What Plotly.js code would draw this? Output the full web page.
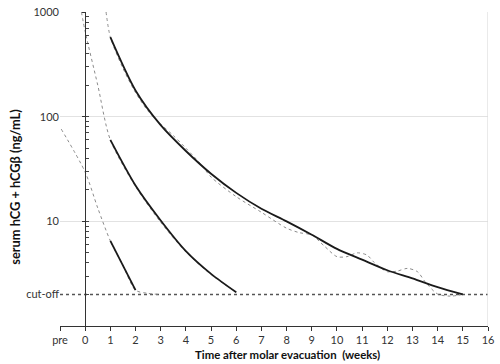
<!DOCTYPE html>
<html><head><meta charset="utf-8">
<script src="https://cdn.plot.ly/plotly-3.0.1.min.js"></script>
<style>html,body{margin:0;padding:0;background:#fff}</style>
</head><body><div id="chart" style="width:500px;height:364px"></div>
<script>
// ---- data ----
const weekTicks  = [-1,0,1,2,3,4,5,6,7,8,9,10,11,12,13,14,15,16];
const weekLabels = ['pre','0','1','2','3','4','5','6','7','8','9','10','11','12','13','14','15','16'];
const yTickVals  = [2, 10, 100, 1000];
const yTickText  = ['cut-off','10','100','1000'];
const minorVals  = [2,3,4,5,6,7,8,9,10,20,30,40,50,60,70,80,90,100,200,300,400,500,600,700,800,900,1000];
const majorVals  = [10,100,1000];
const cutoff     = 2;

// case A (fast regression)
const aObsX = [-0.95, 0, 0.5, 1, 1.5, 2, 2.5, 3];
const aObsY = [76, 29.5, 13.4, 6.5, 3.8, 2.2, 2.05, 2.0];
const aFitX = [1, 2];
const aFitY = [6.5, 2.2];

// case B
const bObsX = [-0.15, 0, 0.5, 1, 2, 3, 4, 5, 6];
const bObsY = [1000, 650, 200, 60, 21.5, 9.8, 5.1, 3.1, 2.1];
const bFitX = [1, 2, 3, 4, 5, 6];
const bFitY = [60, 22, 10.2, 5.2, 3.15, 2.1];

// case C (slow regression)
const cObsX = [0.83, 1, 1.5, 2, 2.5, 3, 3.5, 4, 4.6, 5, 6, 7, 8, 8.5, 9, 9.5, 10, 10.4, 10.8, 11.2, 11.5, 12, 12.4, 12.8, 13.2, 13.5, 14, 14.5, 15];
const cObsY = [1000, 575, 290, 170, 113, 85, 66, 50, 35, 26.5, 17.2, 12.2, 8.6, 7.8, 7.4, 5.8, 4.6, 4.6, 5.0, 4.75, 4.0, 3.3, 3.35, 3.55, 3.3, 2.65, 2.02, 1.93, 2.0];
const cFitX = [1, 2, 3, 4, 5, 6, 7, 8, 9, 10, 11, 12, 13, 14, 15];
const cFitY = [575, 178, 83, 47, 28.5, 18.7, 13.2, 10, 7.45, 5.45, 4.3, 3.41, 2.85, 2.35, 2.0];

// ---- styles ----
const FONT = 'Lato, "Open Sans", sans-serif';
const obsLine = {color:'#8c8c8c', width:1, dash:'dot', shape:'spline', smoothing:0.8};
const fitLine = {color:'#1a1a1a', width:1.8, shape:'spline', smoothing:0.8};

const traces = [
  {x:[-1,16], y:[cutoff,cutoff], mode:'lines', line:{color:'#555', width:1.5, dash:'dot'}, hoverinfo:'skip'},
  {x:aObsX, y:aObsY, mode:'lines', line:obsLine},
  {x:bObsX, y:bObsY, mode:'lines', line:obsLine},
  {x:cObsX, y:cObsY, mode:'lines', line:obsLine},
  {x:aFitX, y:aFitY, mode:'lines', line:{color:'#1a1a1a', width:1.8}},
  {x:bFitX, y:bFitY, mode:'lines', line:fitLine},
  {x:cFitX, y:cFitY, mode:'lines', line:fitLine},
  {x:[null], y:[null], yaxis:'y2', mode:'lines', hoverinfo:'skip'},
  {x:[null], y:[null], yaxis:'y3', mode:'lines', hoverinfo:'skip'}
];

const axPos = (0 - (-1)) / 17;
const layout = {
  width:500, height:364,
  margin:{l:60, r:12, t:12, b:38},
  paper_bgcolor:'#fff', plot_bgcolor:'#fff',
  showlegend:false,
  font:{family:FONT, size:10, color:'#333'},
  xaxis:{
    range:[-1,16], tickvals:weekTicks, ticktext:weekLabels,
    showgrid:false, zeroline:false,
    showline:true, linecolor:'#333', linewidth:1.2,
    ticks:'outside', ticklen:4, tickcolor:'#333', tickwidth:1,
    tickfont:{family:FONT, size:11, color:'#333'}
  },
  yaxis:{
    type:'log', range:[0,3], tickvals:yTickVals, ticktext:yTickText,
    showgrid:false, zeroline:false, showline:false, ticks:'',
    tickfont:{family:FONT, size:11, color:'#333'}
  },
  yaxis2:{
    type:'log', range:[0,3], overlaying:'y', anchor:'free', position:axPos, side:'left',
    tickvals:minorVals, showticklabels:false, ticks:'inside', ticklen:3, tickcolor:'#444', tickwidth:1,
    showline:true, linecolor:'#333', linewidth:1.2, showgrid:false, zeroline:false
  },
  yaxis3:{
    type:'log', range:[0,3], overlaying:'y', anchor:'free', position:axPos, side:'left',
    tickvals:majorVals, showticklabels:false, ticks:'outside', ticklen:3, tickcolor:'#333', tickwidth:1,
    showline:false, showgrid:true, gridcolor:'#e2e2e2', gridwidth:1, zeroline:false
  },
  shapes:[
    {type:'line', xref:'x', yref:'paper', x0:16, x1:16, y0:0, y1:1, line:{color:'#dcdcdc', width:1.2}}
  ],
  annotations:[
    {text:'Time after molar evacuation  (weeks)', xref:'paper', yref:'paper', x:0.532, y:-0.09,
     xanchor:'center', yanchor:'middle', showarrow:false, font:{family:FONT, size:11.4, color:'#111', weight:'bold'}},
    {text:'serum hCG + hCGβ (ng/mL)', xref:'paper', yref:'paper', x:-0.105, y:0.444, textangle:-90,
     xanchor:'center', yanchor:'middle', showarrow:false, font:{family:FONT, size:12.8, color:'#111', weight:'bold'}}
  ]
};

Plotly.newPlot('chart', traces, layout, {staticPlot:true, displayModeBar:false});
</script></body></html>
